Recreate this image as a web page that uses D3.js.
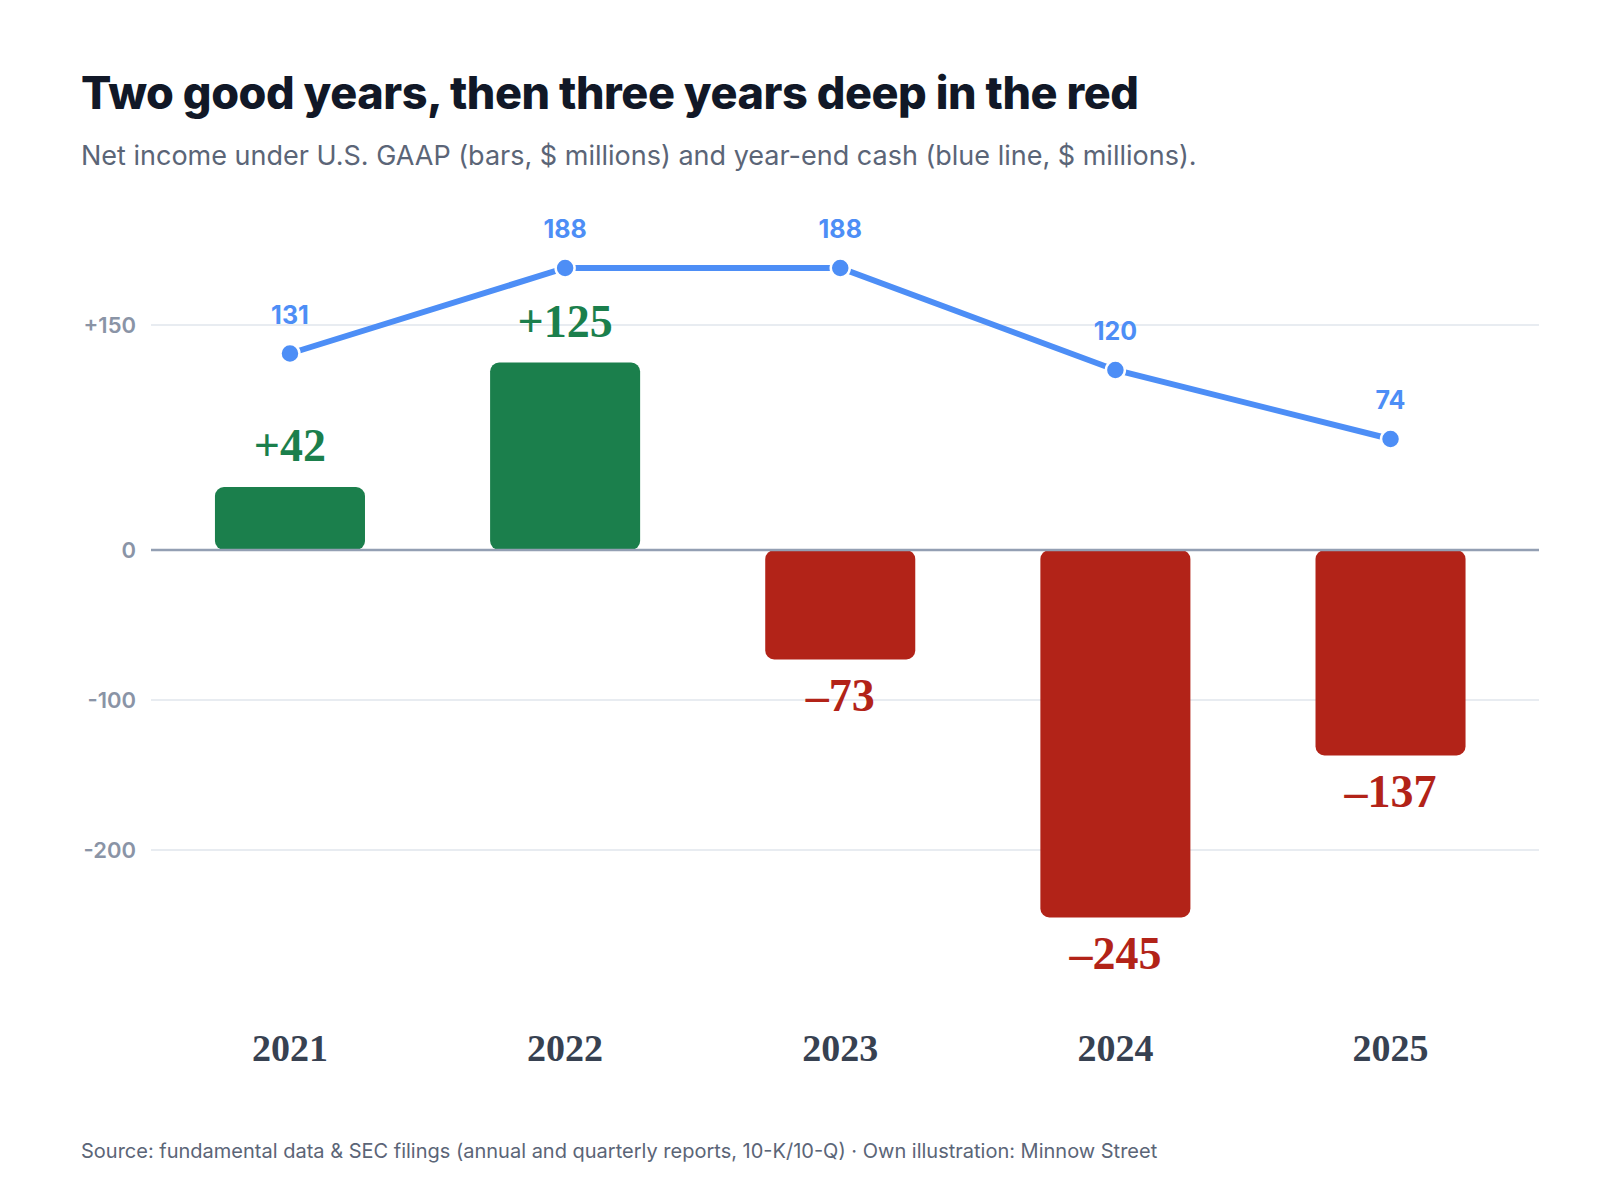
<!DOCTYPE html>
<html>
<head>
<meta charset="utf-8">
<script src="https://cdn.jsdelivr.net/npm/d3@7"></script>
<style>
  body { margin: 0; background: #ffffff; }
  svg { display: block; }
</style>
</head>
<body>
<svg width="1600" height="1200"></svg>
<script>
// data
var years = ["2021", "2022", "2023", "2024", "2025"];
var netIncome = [42, 125, -73, -245, -137];
var cash = [131, 188, 188, 120, 74];
var yTicks = [150, 0, -100, -200];

var svg = d3.select("svg");

var green = "#1b7f4c";
var red = "#b22318";
var blue = "#4d8ef6";

// titles
svg.append("text")
  .attr("x", 81).attr("y", 109)
  .style("font-family", "Inter, sans-serif")
  .style("font-weight", 800)
  .style("font-size", "45px")
  .style("letter-spacing", "-0.45px")
  .style("fill", "#111827")
  .text("Two good years, then three years deep in the red");

svg.append("text")
  .attr("x", 81).attr("y", 165)
  .style("font-family", "Inter, sans-serif")
  .style("font-size", "27px")
  .style("fill", "#5b6577")
  .text("Net income under U.S. GAAP (bars, $ millions) and year-end cash (blue line, $ millions).");

svg.append("text")
  .attr("x", 81).attr("y", 1158)
  .style("font-family", "Inter, sans-serif")
  .style("font-size", "20px")
  .style("fill", "#5b6577")
  .text("Source: fundamental data & SEC filings (annual and quarterly reports, 10-K/10-Q) \u00b7 Own illustration: Minnow Street");

// scales
var x = d3.scaleBand()
  .domain(years)
  .range([152.5, 1528])
  .paddingInner(0.4547)
  .paddingOuter(0.227);

var y = d3.scaleLinear()
  .domain([-200, 150])
  .range([850, 325]);

var gridLeft = 151, gridRight = 1539;

// gridlines
svg.append("g").selectAll("line")
  .data(yTicks.filter(function(d){ return d != 0; }))
  .enter().append("line")
  .attr("x1", gridLeft).attr("x2", gridRight)
  .attr("y1", function(d){ return y(d); })
  .attr("y2", function(d){ return y(d); })
  .style("stroke", "#e8ecf1")
  .style("stroke-width", 2);

// y tick labels
svg.append("g").selectAll("text")
  .data(yTicks)
  .enter().append("text")
  .attr("x", 136)
  .attr("y", function(d){ return y(d); })
  .attr("dy", "0.36em")
  .attr("text-anchor", "end")
  .style("font-family", "Inter, sans-serif")
  .style("font-weight", 600)
  .style("font-size", "22px")
  .style("fill", "#8a94a6")
  .text(function(d){ return d > 0 ? "+" + d : "" + d; });

// bars
var bars = years.map(function(yr, i){ return {year: yr, v: netIncome[i]}; });

svg.append("g").selectAll("rect")
  .data(bars)
  .enter().append("rect")
  .attr("x", function(d){ return x(d.year); })
  .attr("width", x.bandwidth())
  .attr("y", function(d){ return y(Math.max(0, d.v)); })
  .attr("height", function(d){ return Math.abs(y(d.v) - y(0)); })
  .attr("rx", 9)
  .style("fill", function(d){ return d.v >= 0 ? green : red; });

// zero line
svg.append("line")
  .attr("x1", gridLeft).attr("x2", gridRight)
  .attr("y1", y(0)).attr("y2", y(0))
  .style("stroke", "#939fb3")
  .style("stroke-width", 2.5);

// bar labels
svg.append("g").selectAll("text")
  .data(bars)
  .enter().append("text")
  .attr("x", function(d){ return x(d.year) + x.bandwidth() / 2; })
  .attr("y", function(d){ return d.v >= 0 ? y(d.v) - 26 : y(d.v) + 51; })
  .attr("text-anchor", "middle")
  .style("font-family", "'Liberation Serif', serif")
  .style("font-weight", 700)
  .style("font-size", "46px")
  .style("fill", function(d){ return d.v >= 0 ? green : red; })
  .text(function(d){ return d.v >= 0 ? "+" + d.v : "\u2013" + Math.abs(d.v); });

// cash line
var pts = years.map(function(yr, i){ return {year: yr, v: cash[i]}; });
var line = d3.line()
  .x(function(d){ return x(d.year) + x.bandwidth() / 2; })
  .y(function(d){ return y(d.v); });

svg.append("path")
  .datum(pts)
  .attr("d", line)
  .style("fill", "none")
  .style("stroke", blue)
  .style("stroke-width", 6);

svg.append("g").selectAll("circle")
  .data(pts)
  .enter().append("circle")
  .attr("cx", function(d){ return x(d.year) + x.bandwidth() / 2; })
  .attr("cy", function(d){ return y(d.v); })
  .attr("r", 9.5)
  .style("fill", blue)
  .style("stroke", "#ffffff")
  .style("stroke-width", 2.5);

svg.append("g").selectAll("text")
  .data(pts)
  .enter().append("text")
  .attr("x", function(d){ return x(d.year) + x.bandwidth() / 2; })
  .attr("y", function(d){ return y(d.v) - 30; })
  .attr("text-anchor", "middle")
  .style("font-family", "Inter, sans-serif")
  .style("font-weight", 700)
  .style("font-size", "25px")
  .style("fill", blue)
  .text(function(d){ return d.v; });

// year labels
svg.append("g").selectAll("text")
  .data(years)
  .enter().append("text")
  .attr("x", function(d){ return x(d) + x.bandwidth() / 2; })
  .attr("y", 1061)
  .attr("text-anchor", "middle")
  .style("font-family", "'Liberation Serif', serif")
  .style("font-weight", 700)
  .style("font-size", "38px")
  .style("fill", "#374151")
  .text(function(d){ return d; });
</script>
</body>
</html>
